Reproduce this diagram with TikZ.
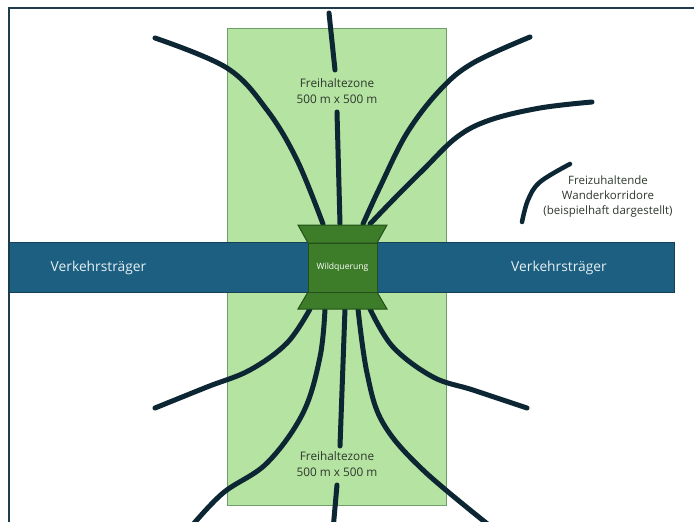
\documentclass[tikz,border=0pt]{standalone}
\usepackage{fontspec}
\setmainfont{Open Sans}
\definecolor{zonefill}{HTML}{B5E3A1}
\definecolor{zoneedge}{HTML}{6E9E6A}
\definecolor{roadfill}{HTML}{1D5F80}
\definecolor{roadedge}{HTML}{163F55}
\definecolor{wqfill}{HTML}{3D7D2A}
\definecolor{wqedge}{HTML}{244F1A}
\definecolor{corrcol}{HTML}{0C2733}
\definecolor{framecol}{HTML}{1D3C4C}
\definecolor{txtdark}{HTML}{2E382E}
\definecolor{roadtxt}{HTML}{E6F0F5}
\begin{document}
\begin{tikzpicture}[x=1pt,y=-1pt,
  corr/.style={draw=corrcol, line width=5pt, line cap=round, line join=round},
  zonebox/.style={draw=zoneedge, line width=1pt, fill=zonefill, inner sep=0pt, anchor=north west},
  roadbox/.style={draw=roadedge, line width=1.2pt, fill=roadfill, inner sep=0pt, anchor=north west},
  wqpart/.style={draw=wqedge, line width=1pt, fill=wqfill},
  roadlabel/.style={text=roadtxt, font=\fontsize{13.8}{17}\selectfont, inner sep=0pt},
  zonelabel/.style={text=txtdark, align=center, font=\fontsize{11.8}{16}\selectfont, inner sep=0pt},
  legendlabel/.style={text=txtdark, align=center, font=\fontsize{11.5}{15}\selectfont, inner sep=0pt}
]
\useasboundingbox (0,0) rectangle (694,522);
\clip (0,0) rectangle (694,522);
\fill[white] (0,0) rectangle (694,522);

% Freihaltezone
\node[zonebox, minimum width=219pt, minimum height=477pt] (zone) at (227,28) {};

% frame
\draw[framecol, line width=2pt] (9,540) -- (9,8) -- (710,8);

% road
\node[roadbox, minimum width=665pt, minimum height=50pt] (road) at (9,242) {};
\node[roadlabel] (roadL) at (98.5,268) {Verkehrsträger};
\node[roadlabel] (roadR) at (559,268) {Verkehrsträger};

% corridor end points on the crossing
\coordinate (t1) at (323,224);
\coordinate (t2) at (340,224);
\coordinate (t3) at (363,224);
\coordinate (t4) at (370,224);
\coordinate (b1) at (310,309);
\coordinate (b2) at (325,309);
\coordinate (b3) at (345,309);
\coordinate (b4) at (358,309);
\coordinate (b5) at (370,309);

% top corridors
\draw[corr] plot[smooth, tension=0.6] coordinates {(155,38) (227,68) (267,110) (297,160) (t1)};
\draw[corr] (329,13) -- (335,70);
\draw[corr] (337,112) -- (t2);
\draw[corr] plot[smooth, tension=0.6] coordinates {(530,37) (473,63) (440,90) (407,133) (380,187) (t3)};
\draw[corr] plot[smooth, tension=0.6] coordinates {(592,102) (540,108) (490,120) (457,137) (423,170) (393,200) (t4)};

% bottom corridors
\draw[corr] plot[smooth, tension=0.6] coordinates {(b1) (287,343) (250,370) (207,387) (155,408)};
\draw[corr] plot[smooth, tension=0.6] coordinates {(b2) (320,357) (303,413) (267,463) (223,493) (190,528)};
\draw[corr] (b3) -- (340,446);
\draw[corr] (337,485) -- (333,530);
\draw[corr] plot[smooth, tension=0.6] coordinates {(b4) (367,373) (383,423) (423,470) (495,530)};
\draw[corr] plot[smooth, tension=0.6] coordinates {(b5) (393,347) (433,377) (473,390) (527,408)};

% legend stroke
\draw[corr, line width=4.5pt] plot[smooth, tension=0.6] coordinates {(522,222) (528,200) (540,182) (570,164)};

% Wildquerung
\draw[wqpart] (298,225) -- (387,225) -- (377,243) -- (308,243) -- cycle;
\draw[wqpart] (298,309) -- (387,309) -- (377,292) -- (308,292) -- cycle;
\node[wqpart, minimum width=69pt, minimum height=49pt, inner sep=0pt, text=white,
      font=\fontsize{8.6}{11}\selectfont] (wq) at (342.5,267.5) {Wildquerung};

% labels
\node[zonelabel] (zoneTop) at (337,91) {Freihaltezone\\500 m x 500 m};
\node[zonelabel] (zoneBot) at (337,464) {Freihaltezone\\500 m x 500 m};
\node[legendlabel] (legend) at (608,197) {Freizuhaltende\\Wanderkorridore\\(beispielhaft dargestellt)};
\end{tikzpicture}
\end{document}
